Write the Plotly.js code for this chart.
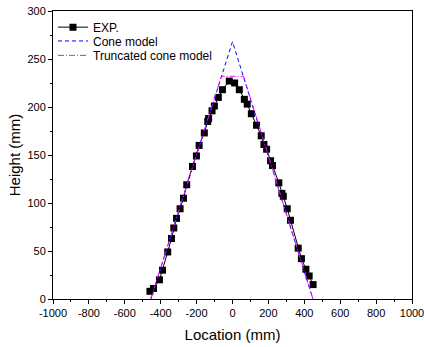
<!DOCTYPE html>
<html>
<head>
<meta charset="utf-8">
<script src="https://cdn.plot.ly/plotly-3.0.1.min.js"></script>
<style>html,body{margin:0;padding:0;background:#fff;}#chart{width:424px;height:347px;}</style>
</head>
<body>
<div id="chart"></div>
<script>
// Experimental data
const expX = [-460, -440, -407, -390, -361, -340, -327, -312, -292, -273, -255, -223, -201, -186, -157, -138, -133, -114, -101, -79, -56, -18, 12, 38, 66, 82, 105, 134, 160, 175, 190, 212, 223, 258, 275, 283, 305, 323, 366, 384, 409, 427, 449];
const expY = [8, 11, 20, 30, 49, 63, 74, 84, 94, 105, 119, 138, 149, 160, 173, 185, 188, 196, 201, 210, 218, 227, 225, 218, 208, 203, 193, 181, 170, 161, 156, 144, 139, 121, 110, 107, 94, 82, 53, 42, 31, 24, 15];
// Cone model
const coneX = [-455, 0, 448];
const coneY = [0, 268, 0];
// Truncated cone model
const truncX = [-455, -62, 62, 448];
const truncY = [0, 232, 232, 0];
// Tick labels
const xTickVals = [-1000, -800, -600, -400, -200, 0, 200, 400, 600, 800, 1000];
const xTickText = ['-1000', '-800', '-600', '-400', '-200', '0', '200', '400', '600', '800', '1000'];

const font = "Liberation Sans, Arial, sans-serif";
const data = [
  {x: expX, y: expY, name: 'EXP.', mode: 'lines+markers', type: 'scatter', legend: 'legend',
   line: {color: '#000000', width: 1}, marker: {symbol: 'square', size: 7, color: '#000000'}},
  {x: coneX, y: coneY, name: 'Cone model', mode: 'lines', type: 'scatter', legend: 'legend2',
   line: {color: '#0000ff', width: 1, dash: '4px,3px'}},
  {x: truncX, y: truncY, name: 'Truncated cone model', mode: 'lines', type: 'scatter', legend: 'legend3',
   line: {color: '#ff00ff', width: 1, dash: '6px,2px,1px,2px'}}
];
function leg(y) {
  return {x: 0.0, y: y, xanchor: 'left', yanchor: 'middle', bgcolor: 'rgba(0,0,0,0)',
          font: {family: font, size: 12, color: '#000'}, itemwidth: 30};
}
const layout = {
  width: 424, height: 347,
  margin: {l: 53, r: 12, t: 11, b: 48},
  paper_bgcolor: '#fff', plot_bgcolor: '#fff',
  font: {family: font, size: 11, color: '#000'},
  showlegend: true,
  legend: leg(0.944),
  legend2: leg(0.896),
  legend3: leg(0.846),
  xaxis: {range: [-1000, 1000], tickmode: 'array', tickvals: xTickVals, ticktext: xTickText,
          ticklabeloverflow: 'allow', showgrid: false, zeroline: false,
          showline: true, linecolor: '#000', linewidth: 1, mirror: true,
          ticks: 'outside', ticklen: 4, tickcolor: '#000',
          minor: {dtick: 100, ticks: 'outside', ticklen: 2, tickcolor: '#000'},
          title: {text: 'Location (mm)', font: {family: font, size: 15}, standoff: 11},
          tickfont: {family: font, size: 11}},
  yaxis: {range: [0, 300], dtick: 50, showgrid: false, zeroline: false,
          showline: true, linecolor: '#000', linewidth: 1, mirror: true,
          ticks: 'outside', ticklen: 4, tickcolor: '#000',
          minor: {dtick: 25, ticks: 'outside', ticklen: 2, tickcolor: '#000'},
          title: {text: 'Height (mm)', font: {family: font, size: 15}, standoff: 3},
          tickfont: {family: font, size: 11}}
};
Plotly.newPlot('chart', data, layout, {displayModeBar: false, staticPlot: true});
</script>
</body>
</html>
